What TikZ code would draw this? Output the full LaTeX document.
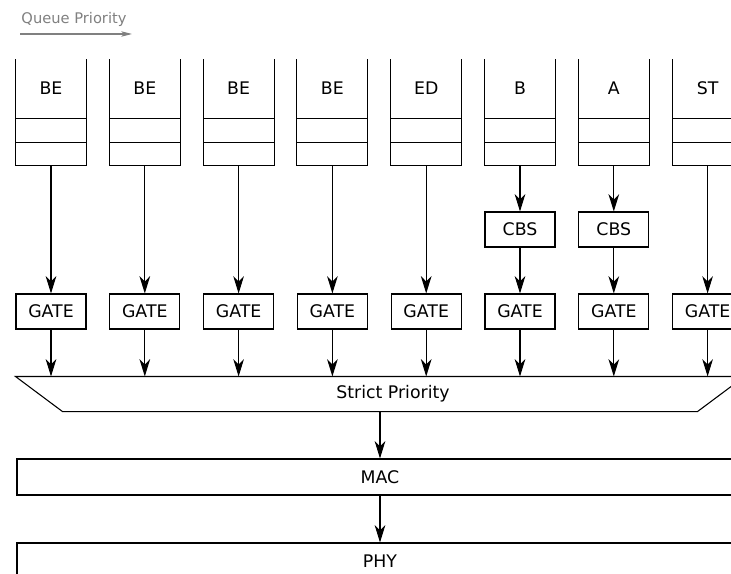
\documentclass[tikz,border=0pt]{standalone}
\usepackage{fontspec}
\setmainfont{DejaVu Sans}
\usepackage{tikz}
\usetikzlibrary{arrows.meta}
\usetikzlibrary{positioning}

\tikzset{
  queue/.style={minimum width=52.5pt, inner sep=0pt, text height=25.9pt, text depth=52.85pt,
    append after command={\pgfextra{
      \draw (\tikzlastnode.north west) |- (\tikzlastnode.south east) -- (\tikzlastnode.north east);
      \draw ([yshift=35.25pt]\tikzlastnode.south west) -- ([yshift=35.25pt]\tikzlastnode.south east);
      \draw ([yshift=17.6pt]\tikzlastnode.south west) -- ([yshift=17.6pt]\tikzlastnode.south east);
    }}},
  gate/.style={draw, minimum width=52.5pt, minimum height=26.25pt, inner sep=0pt},
  layer/.style={draw, minimum width=544.5pt, minimum height=27pt, inner sep=0pt},
}

\begin{document}
\begin{tikzpicture}[x=0.75pt, y=-0.75pt, node distance=70.35pt, line width=0.8pt,
  font=\fontsize{13}{15}\selectfont,
  >={Stealth[length=13pt, width=8pt, inset=4pt]}]
  \useasboundingbox (0,0) rectangle (731,574);

  % priority hint
  \node (qp) [text=gray, font=\fontsize{11}{13}\selectfont] at (74,19) {Queue Priority};
  \coordinate (qpstart) at (20,34);
  \coordinate (qpend) at (132,34);
  \draw[gray, -{Stealth[length=8pt, width=4pt, inset=2pt]}] (qpstart) -- (qpend);

  % queues
  \node (q1) [queue] at (51,112.5) {BE};
  \node (q2) [queue, right of=q1] {BE};
  \node (q3) [queue, right of=q2] {BE};
  \node (q4) [queue, right of=q3] {BE};
  \node (q5) [queue, right of=q4] {ED};
  \node (q6) [queue, right of=q5] {B};
  \node (q7) [queue, right of=q6] {A};
  \node (q8) [queue, right of=q7] {ST};

  % shapers
  \node (c6) [gate, node distance=87.75pt, below of=q6] {CBS};
  \node (c7) [gate, node distance=87.75pt, below of=q7] {CBS};

  % gates
  \node (g1) [gate, node distance=149.25pt, below of=q1] {GATE};
  \node (g2) [gate, node distance=149.25pt, below of=q2] {GATE};
  \node (g3) [gate, node distance=149.25pt, below of=q3] {GATE};
  \node (g4) [gate, node distance=149.25pt, below of=q4] {GATE};
  \node (g5) [gate, node distance=149.25pt, below of=q5] {GATE};
  \node (g6) [gate, node distance=149.25pt, below of=q6] {GATE};
  \node (g7) [gate, node distance=149.25pt, below of=q7] {GATE};
  \node (g8) [gate, node distance=149.25pt, below of=q8] {GATE};

  % selection and layers
  \node (sp) [minimum width=546pt, minimum height=25.5pt, inner sep=0pt] at (380,394) {};
  \node (splabel) at (393,394) {Strict Priority};
  \draw (sp.north west) -- (sp.north east) -- ([xshift=-35.25pt]sp.south east)
    -- ([xshift=35.25pt]sp.south west) -- cycle;
  \node (mac) [layer] at (380,477) {MAC};
  \node (phy) [layer] at (380,561) {PHY};

  \draw[->] (q1) -- (g1);
  \draw[->] (q2) -- (g2);
  \draw[->] (q3) -- (g3);
  \draw[->] (q4) -- (g4);
  \draw[->] (q5) -- (g5);
  \draw[->] (q6) -- (c6);
  \draw[->] (c6) -- (g6);
  \draw[->] (q7) -- (c7);
  \draw[->] (c7) -- (g7);
  \draw[->] (q8) -- (g8);
  \draw[->] (g1) -- (g1 |- sp.north);
  \draw[->] (g2) -- (g2 |- sp.north);
  \draw[->] (g3) -- (g3 |- sp.north);
  \draw[->] (g4) -- (g4 |- sp.north);
  \draw[->] (g5) -- (g5 |- sp.north);
  \draw[->] (g6) -- (g6 |- sp.north);
  \draw[->] (g7) -- (g7 |- sp.north);
  \draw[->] (g8) -- (g8 |- sp.north);
  \draw[->] (sp) -- (mac);
  \draw[->] (mac) -- (phy);
\end{tikzpicture}
\end{document}
